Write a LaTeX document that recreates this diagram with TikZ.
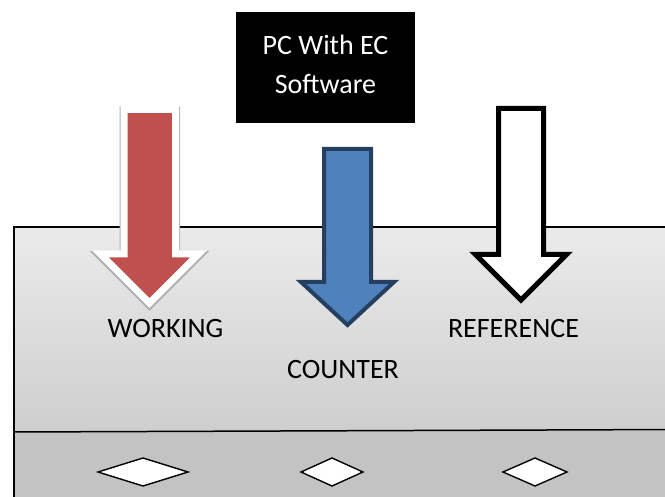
\documentclass[tikz,border=0pt]{standalone}
\usepackage{fontspec}
\setmainfont{Carlito}
\definecolor{redfill}{HTML}{C0504D}
\definecolor{bluefill}{HTML}{4F81BD}
\definecolor{blueline}{HTML}{243F60}
\definecolor{boxtop}{HTML}{EBEBEB}
\definecolor{boxmid}{HTML}{CECECE}
\definecolor{boxlow}{HTML}{C3C3C3}
\tikzset{
  lbl/.style={anchor=base, font=\fontsize{28}{34}\selectfont, inner sep=0pt},
  pcbox/.style={fill=black, minimum width=179pt, minimum height=111pt, inner sep=0pt},
  pctext/.style={text=white, inner sep=0pt, align=center, font=\fontsize{28}{39}\selectfont},
  arrowshape/.style={line join=miter},
  slot/.style={draw=black, fill=white, line width=1.4pt, line join=miter}
}
\begin{document}
\begin{tikzpicture}[x=1pt,y=-1pt]
\useasboundingbox (0,0) rectangle (665,497);
\clip (0,0) rectangle (665,497);
% main box
\shade[top color=boxtop, bottom color=boxmid] (14,227) rectangle (680,431);
\fill[boxlow] (14,431.5) rectangle (680,510);
\draw[line width=1.5pt] (680,227) -- (14,227) -- (14,510);
\draw[line width=1.5pt] (14,432) -- (680,429.5);
% black box
\node[pcbox] (pc) at (325.5,67.5) {};
\node[pctext] (pclabel) at (325.5,64.5) {PC With EC\\Software};
% red arrow (working)
\draw[arrowshape, gray!60, line width=9pt, yshift=-1.5pt]
  (124,109.5) -- (175.5,109.5) -- (175.5,254) -- (198.5,254) -- (149.5,303) -- (100.5,254) -- (124,254) -- cycle;
\draw[arrowshape, draw=white, fill=redfill, line width=7pt]
  (124,109.5) -- (175.5,109.5) -- (175.5,254) -- (198.5,254) -- (149.5,303) -- (100.5,254) -- (124,254) -- cycle;
% blue arrow (counter)
\draw[arrowshape, draw=blueline, fill=bluefill, line width=4pt]
  (324,149) -- (371,149) -- (371,282) -- (394,282) -- (347.5,325) -- (301,282) -- (324,282) -- cycle;
% white arrow (reference)
\draw[arrowshape, draw=black, fill=white, line width=5pt]
  (498.5,108.5) -- (543.5,108.5) -- (543.5,254.5) -- (566.5,254.5) -- (521,300) -- (475.5,254.5) -- (498.5,254.5) -- cycle;
% labels
\node[lbl] (working) at (165.5,338) {WORKING};
\node[lbl] (counter) at (343,379) {COUNTER};
\node[lbl] (reference) at (513.5,338) {REFERENCE};
% diamonds
\draw[slot] (98,472) -- (143,458) -- (188,472) -- (143,486) -- cycle;
\draw[slot] (301,472) -- (332,458) -- (363,472) -- (332,486) -- cycle;
\draw[slot] (503,472) -- (535,458) -- (567,472) -- (535,486) -- cycle;
\end{tikzpicture}
\end{document}
